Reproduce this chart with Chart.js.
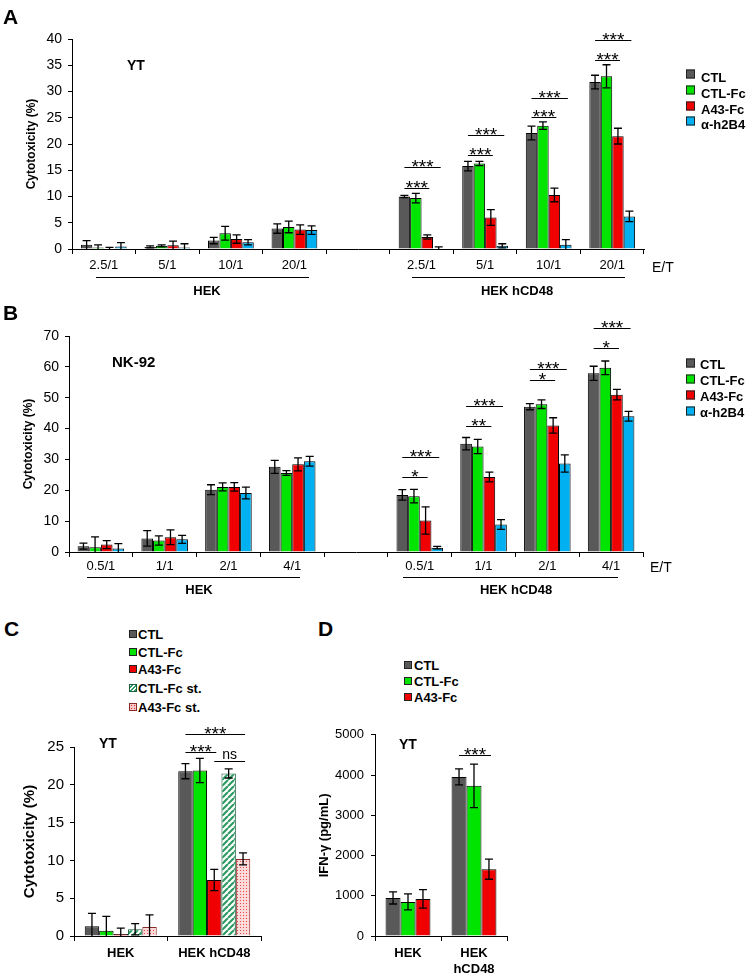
<!DOCTYPE html>
<html><head><meta charset="utf-8">
<script src="https://cdn.jsdelivr.net/npm/chart.js@4/dist/chart.umd.min.js"></script>
<style>
html,body{margin:0;padding:0;background:#fff;}
body{width:749px;height:974px;position:relative;overflow:hidden;font-family:'Liberation Sans',Arial,sans-serif;color:#000;}
.box{position:absolute;}
.t{position:absolute;line-height:1;white-space:nowrap;transform:translateY(-50%);}
.tc{position:absolute;line-height:1;white-space:nowrap;transform:translate(-50%,-50%);}
.b{font-weight:bold;}
.hl{position:absolute;height:0;border-top:1px solid #000;}
.sw{position:absolute;box-sizing:border-box;border:1px solid #222;transform:translateY(-50%);}
</style></head><body>

<div class="box" style="left:0;top:0;width:749px;height:300px"><canvas id="cA"></canvas></div>
<div class="box" style="left:0;top:290px;width:749px;height:310px"><canvas id="cB"></canvas></div>
<div class="box" style="left:0;top:720px;width:300px;height:254px"><canvas id="cC"></canvas></div>
<div class="box" style="left:300px;top:720px;width:449px;height:254px"><canvas id="cD"></canvas></div>

<!-- Panel A -->
<div class="t b" style="left:3px;top:15.5px;font-size:21px">A</div>
<div class="t b" style="left:127px;top:65px;font-size:14px">YT</div>
<div class="hl" style="left:96px;width:213px;top:277px"></div>
<div class="tc b" style="left:207px;top:290px;font-size:13px">HEK</div>
<div class="hl" style="left:412px;width:213px;top:277px"></div>
<div class="tc b" style="left:517px;top:290px;font-size:13px">HEK hCD48</div>
<div class="t" style="left:652px;top:267px;font-size:14px">E/T</div>
<div class="sw" style="left:686px;top:74px;width:9px;height:9px;background:#595959"></div>
<div class="t b" style="left:701px;top:77px;font-size:13px">CTL</div>
<div class="sw" style="left:686px;top:90px;width:9px;height:9px;background:#00e400"></div>
<div class="t b" style="left:701px;top:93px;font-size:13px">CTL-Fc</div>
<div class="sw" style="left:686px;top:106px;width:9px;height:9px;background:#f00000"></div>
<div class="t b" style="left:701px;top:109px;font-size:13px">A43-Fc</div>
<div class="sw" style="left:686px;top:121px;width:9px;height:9px;background:#00b0f0"></div>
<div class="t b" style="left:701px;top:124px;font-size:13px">α-h2B4</div>

<!-- Panel B -->
<div class="t b" style="left:3px;top:311.5px;font-size:21px">B</div>
<div class="t b" style="left:112px;top:361px;font-size:15px">NK-92</div>
<div class="hl" style="left:87px;width:213px;top:577px"></div>
<div class="tc b" style="left:199px;top:589px;font-size:13px">HEK</div>
<div class="hl" style="left:403px;width:215px;top:577px"></div>
<div class="tc b" style="left:516px;top:589px;font-size:13px">HEK hCD48</div>
<div class="t" style="left:650px;top:567px;font-size:14px">E/T</div>
<div class="sw" style="left:686px;top:363px;width:9px;height:9px;background:#595959"></div>
<div class="t b" style="left:700px;top:364px;font-size:13px">CTL</div>
<div class="sw" style="left:686px;top:379px;width:9px;height:9px;background:#00e400"></div>
<div class="t b" style="left:700px;top:380px;font-size:13px">CTL-Fc</div>
<div class="sw" style="left:686px;top:395px;width:9px;height:9px;background:#f00000"></div>
<div class="t b" style="left:700px;top:396px;font-size:13px">A43-Fc</div>
<div class="sw" style="left:686px;top:411px;width:9px;height:9px;background:#00b0f0"></div>
<div class="t b" style="left:700px;top:412px;font-size:13px">α-h2B4</div>

<!-- Panel C -->
<div class="t b" style="left:4px;top:628px;font-size:21px">C</div>
<div class="sw" style="left:129px;top:634px;width:8px;height:8px;background:#595959"></div>
<div class="t b" style="left:138px;top:634px;font-size:13px">CTL</div>
<div class="sw" style="left:129px;top:652px;width:8px;height:8px;background:#00e400"></div>
<div class="t b" style="left:138px;top:652px;font-size:13px">CTL-Fc</div>
<div class="sw" style="left:129px;top:669px;width:8px;height:8px;background:#f00000"></div>
<div class="t b" style="left:138px;top:669px;font-size:13px">A43-Fc</div>
<div class="sw" style="left:129px;top:688px;width:8px;height:8px;border-color:#1b5e3b;background:repeating-linear-gradient(-45deg,#2e9c63 0 1.5px,#fff 1.5px 3px)"></div>
<div class="t b" style="left:138px;top:688px;font-size:13px">CTL-Fc st.</div>
<div class="sw" style="left:129px;top:707px;width:8px;height:8px;border-color:#8a2a2a;background-color:#f8c8c8;background-image:radial-gradient(#e53030 0.7px,transparent 0.9px);background-size:3px 3px"></div>
<div class="t b" style="left:138px;top:707px;font-size:13px">A43-Fc st.</div>
<div class="t b" style="left:99px;top:743px;font-size:14px">YT</div>

<!-- Panel D -->
<div class="t b" style="left:318px;top:628px;font-size:21px">D</div>
<div class="sw" style="left:404px;top:665px;width:8px;height:8px;background:#595959"></div>
<div class="t b" style="left:414px;top:665px;font-size:13px">CTL</div>
<div class="sw" style="left:404px;top:681px;width:8px;height:8px;background:#00e400"></div>
<div class="t b" style="left:414px;top:681px;font-size:13px">CTL-Fc</div>
<div class="sw" style="left:404px;top:697px;width:8px;height:8px;background:#f00000"></div>
<div class="t b" style="left:414px;top:697px;font-size:13px">A43-Fc</div>
<div class="t b" style="left:399px;top:744px;font-size:14px">YT</div>

<script>
// ---------- DATA ----------
// Panel A (YT, cytotoxicity %)
const etA = ['2.5/1','5/1','10/1','20/1','','2.5/1','5/1','10/1','20/1'];
const ctlA     = [0.8, 0.4, 1.6, 3.9, null, 10.0, 15.8, 22.1, 31.8];
const ctlA_err = [0.8, 0.2, 0.6, 0.9, null, 0.2, 0.9, 1.3, 1.3];
const ctlFcA     = [0.3, 0.6, 3.0, 4.2, null, 9.7, 16.3, 23.5, 32.9];
const ctlFcA_err = [0.5, 0.2, 1.3, 1.1, null, 0.9, 0.4, 0.7, 2.2];
const a43A     = [0.1, 0.7, 1.9, 3.7, null, 2.3, 6.0, 10.3, 21.5];
const a43A_err = [0.2, 0.8, 0.8, 0.9, null, 0.4, 1.5, 1.3, 1.5];
const h2b4A     = [0.5, 0.3, 1.3, 3.6, null, 0.1, 0.6, 0.8, 6.2];
const h2b4A_err = [0.7, 0.7, 0.5, 0.8, null, 0.3, 0.4, 1.0, 1.0];
// significance: [category, from series, to series, y level, label]
const sigA = [[5,0,2,11.7,'***'],[5,0,3,15.6,'***'],[6,0,2,18.0,'***'],[6,0,3,21.8,'***'],
              [7,0,2,25.1,'***'],[7,0,3,28.8,'***'],[8,0,2,36.0,'***'],[8,0,3,39.8,'***']];

// Panel B (NK-92, cytotoxicity %)
const etB = ['0.5/1','1/1','2/1','4/1','','0.5/1','1/1','2/1','4/1'];
const ctlB     = [1.9, 4.4, 20.2, 27.6, null, 18.5, 35.1, 47.1, 57.9];
const ctlB_err = [1.0, 2.5, 1.6, 2.1, null, 1.7, 2.0, 1.0, 2.3];
const ctlFcB     = [1.5, 3.7, 21.1, 25.6, null, 18.1, 34.2, 47.9, 59.7];
const ctlFcB_err = [3.4, 1.5, 1.3, 0.8, null, 2.2, 2.3, 1.4, 2.2];
const a43B     = [2.4, 4.8, 21.1, 28.4, null, 10.2, 24.3, 41.0, 51.0];
const a43B_err = [1.3, 2.4, 1.4, 2.1, null, 4.4, 1.6, 2.5, 1.7];
const h2b4B     = [1.1, 4.1, 19.1, 29.4, null, 1.4, 8.9, 28.7, 44.0];
const h2b4B_err = [1.6, 1.3, 1.9, 1.6, null, 0.4, 1.6, 2.8, 1.6];
const sigB = [[5,0,2,24.3,'*'],[5,0,3,30.8,'***'],[6,0,2,40.8,'**'],[6,0,3,47.4,'***'],
              [7,0,2,55.8,'*'],[7,0,3,59.4,'***'],[8,0,2,66.1,'*'],[8,0,3,72.6,'***']];

// Panel C (YT, cytotoxicity %)
const targetsC = ['HEK','HEK hCD48'];
const ctlC = [1.3, 21.8],   ctlC_err = [1.7, 1.0];
const ctlFcC = [0.7, 21.9], ctlFcC_err = [1.9, 1.6];
const a43C = [0.25, 7.4],   a43C_err = [0.8, 1.4];
const ctlFcStC = [0.9, 21.5], ctlFcStC_err = [0.75, 0.6];
const a43StC = [1.2, 10.2],   a43StC_err = [1.6, 0.8];
const sigC = [[1,0,2,24.4,'***'],[1,0,4,26.75,'***'],[1,2,4,23.1,'ns']];

// Panel D (YT, IFN-γ pg/mL)
const targetsD = ['HEK',['HEK','hCD48']];
const ctlD = [945, 3954],   ctlD_err = [150, 200];
const ctlFcD = [847, 3732], ctlFcD_err = [200, 540];
const a43D = [921, 1660],   a43D_err = [230, 250];
const sigD = [[1,0,2,4488,'***']];

// ---------- STYLE ----------
const FONT = "'Liberation Sans', Arial, sans-serif";
Chart.defaults.font.family = FONT;
Chart.defaults.color = '#000';
const COL = {ctl:'#595959', ctlFc:'#00e400', a43:'#f00000', h2b4:'#00b0f0'};

function makePattern(kind){
  const c = document.createElement('canvas');
  const g = c.getContext('2d');
  if (kind === 'stripe') {
    c.width = 6; c.height = 6;
    g.fillStyle = '#fff'; g.fillRect(0,0,6,6);
    g.strokeStyle = '#2e9c63'; g.lineWidth = 2.2;
    g.beginPath();
    for (let k = -6; k <= 12; k += 6) { g.moveTo(k, 6); g.lineTo(k + 6, 0); }
    g.stroke();
  } else {
    c.width = 3; c.height = 3;
    g.fillStyle = '#fbdada'; g.fillRect(0,0,3,3);
    g.fillStyle = '#e84848'; g.fillRect(0,0,1,1);
  }
  return g.createPattern(c, 'repeat');
}

function annotPlugin(errs, sigs, cap){
  return {
    id: 'annot',
    afterDatasetsDraw(chart){
      const ctx = chart.ctx, ys = chart.scales.y;
      ctx.save();
      ctx.strokeStyle = '#000'; ctx.lineWidth = 1.3;
      chart.data.datasets.forEach((ds, i) => {
        const meta = chart.getDatasetMeta(i);
        ds.data.forEach((v, j) => {
          if (v == null) return;
          const e = errs[i][j], x = meta.data[j].x, c = cap / 2;
          const yt = ys.getPixelForValue(v + e);
          const lo = Math.max(v - e, 0);
          const yb = ys.getPixelForValue(lo);
          ctx.beginPath();
          ctx.moveTo(x, yt); ctx.lineTo(x, yb);
          ctx.moveTo(x - c, yt); ctx.lineTo(x + c, yt);
          if (v - e > 0) { ctx.moveTo(x - c, yb); ctx.lineTo(x + c, yb); }
          ctx.stroke();
        });
      });
      ctx.lineWidth = 1;
      sigs.forEach(([cat, a, b, yv, lab]) => {
        const x1 = chart.getDatasetMeta(a).data[cat].x;
        const x2 = chart.getDatasetMeta(b).data[cat].x + 2;
        const y = Math.round(ys.getPixelForValue(yv)) + 0.5;
        ctx.beginPath(); ctx.moveTo(x1, y); ctx.lineTo(x2, y); ctx.stroke();
        ctx.fillStyle = '#000'; ctx.textAlign = 'center'; ctx.textBaseline = 'alphabetic';
        if (lab === 'ns') { ctx.font = '14px ' + FONT; ctx.fillText(lab, (x1 + x2) / 2, y - 3); }
        else { ctx.font = '19px ' + FONT; ctx.fillText(lab, (x1 + x2) / 2, y + 5); }
      });
      ctx.restore();
    }
  };
}

function opts(o){
  return {
    responsive: true, maintainAspectRatio: false, animation: false,
    layout: { padding: { left: 0, top: o.top, right: o.right, bottom: 0 } },
    plugins: { legend: { display: false }, tooltip: { enabled: false } },
    scales: {
      x: {
        grid: { offset: true, drawOnChartArea: false, color: '#000', tickLength: 5, lineWidth: 1 },
        border: { color: '#000', width: 1 },
        ticks: { autoSkip: false, maxRotation: 0, minRotation: 0, padding: o.xpad, font: o.xfont },
        afterFit: s => { s.height = o.xh; }
      },
      y: {
        min: 0, max: o.max,
        grid: { drawOnChartArea: false, color: '#000', tickLength: 4, lineWidth: 1 },
        border: { color: '#000', width: 1 },
        ticks: { stepSize: o.step, padding: o.ypad, font: o.yfont, callback: v => String(v) },
        title: { display: true, text: o.title, font: o.tfont, padding: { top: o.tpad, bottom: 0 } },
        afterFit: s => { s.width = o.yw; }
      }
    }
  };
}

function ds(label, data, color, cp, border){
  return { label, data, backgroundColor: color, borderColor: border || '#000', borderWidth: 1,
           categoryPercentage: cp, barPercentage: 1 };
}

// Panel A
new Chart(document.getElementById('cA'), {
  type: 'bar',
  data: { labels: etA, datasets: [
    ds('CTL', ctlA, COL.ctl, 0.72), ds('CTL-Fc', ctlFcA, COL.ctlFc, 0.72),
    ds('A43-Fc', a43A, COL.a43, 0.72), ds('α-h2B4', h2b4A, COL.h2b4, 0.72)] },
  options: opts({top: 39, right: 105, xh: 51, yw: 72, max: 40, step: 5, xpad: 4, ypad: 6,
    xfont: {size: 13}, yfont: {size: 14}, title: 'Cytotoxicity (%)', tfont: {size: 12, weight: 'bold'}, tpad: 24}),
  plugins: [annotPlugin([ctlA_err, ctlFcA_err, a43A_err, h2b4A_err], sigA, 8)]
});

// Panel B
new Chart(document.getElementById('cB'), {
  type: 'bar',
  data: { labels: etB, datasets: [
    ds('CTL', ctlB, COL.ctl, 0.73), ds('CTL-Fc', ctlFcB, COL.ctlFc, 0.73),
    ds('A43-Fc', a43B, COL.a43, 0.73), ds('α-h2B4', h2b4B, COL.h2b4, 0.73)] },
  options: opts({top: 46, right: 106, xh: 48, yw: 69, max: 70, step: 10, xpad: 2, ypad: 6,
    xfont: {size: 13}, yfont: {size: 14}, title: 'Cytotoxicity (%)', tfont: {size: 12, weight: 'bold'}, tpad: 21}),
  plugins: [annotPlugin([ctlB_err, ctlFcB_err, a43B_err, h2b4B_err], sigB, 8)]
});

// Panel C
new Chart(document.getElementById('cC'), {
  type: 'bar',
  data: { labels: targetsC, datasets: [
    ds('CTL', ctlC, COL.ctl, 0.77), ds('CTL-Fc', ctlFcC, COL.ctlFc, 0.77),
    ds('A43-Fc', a43C, COL.a43, 0.77),
    ds('CTL-Fc st.', ctlFcStC, makePattern('stripe'), 0.77, '#1b5e3b'),
    ds('A43-Fc st.', a43StC, makePattern('dots'), 0.77, '#8a2a2a')] },
  options: opts({top: 27, right: 39, xh: 38, yw: 74, max: 25, step: 5, xpad: 5, ypad: 6,
    xfont: {size: 13, weight: 'bold'}, yfont: {size: 15}, title: 'Cytotoxicity (%)', tfont: {size: 15, weight: 'bold'}, tpad: 21}),
  plugins: [annotPlugin([ctlC_err, ctlFcC_err, a43C_err, ctlFcStC_err, a43StC_err], sigC, 8)]
});

// Panel D
new Chart(document.getElementById('cD'), {
  type: 'bar',
  data: { labels: targetsD, datasets: [
    ds('CTL', ctlD, COL.ctl, 0.68), ds('CTL-Fc', ctlFcD, COL.ctlFc, 0.68),
    ds('A43-Fc', a43D, COL.a43, 0.68)] },
  options: opts({top: 13, right: 242, xh: 38, yw: 75, max: 5000, step: 1000, xpad: 5, ypad: 7,
    xfont: {size: 13, weight: 'bold'}, yfont: {size: 13}, title: 'IFN-γ (pg/mL)', tfont: {size: 13, weight: 'bold'}, tpad: 17}),
  plugins: [annotPlugin([ctlD_err, ctlFcD_err, a43D_err], sigD, 8)]
});
</script>
</body></html>
